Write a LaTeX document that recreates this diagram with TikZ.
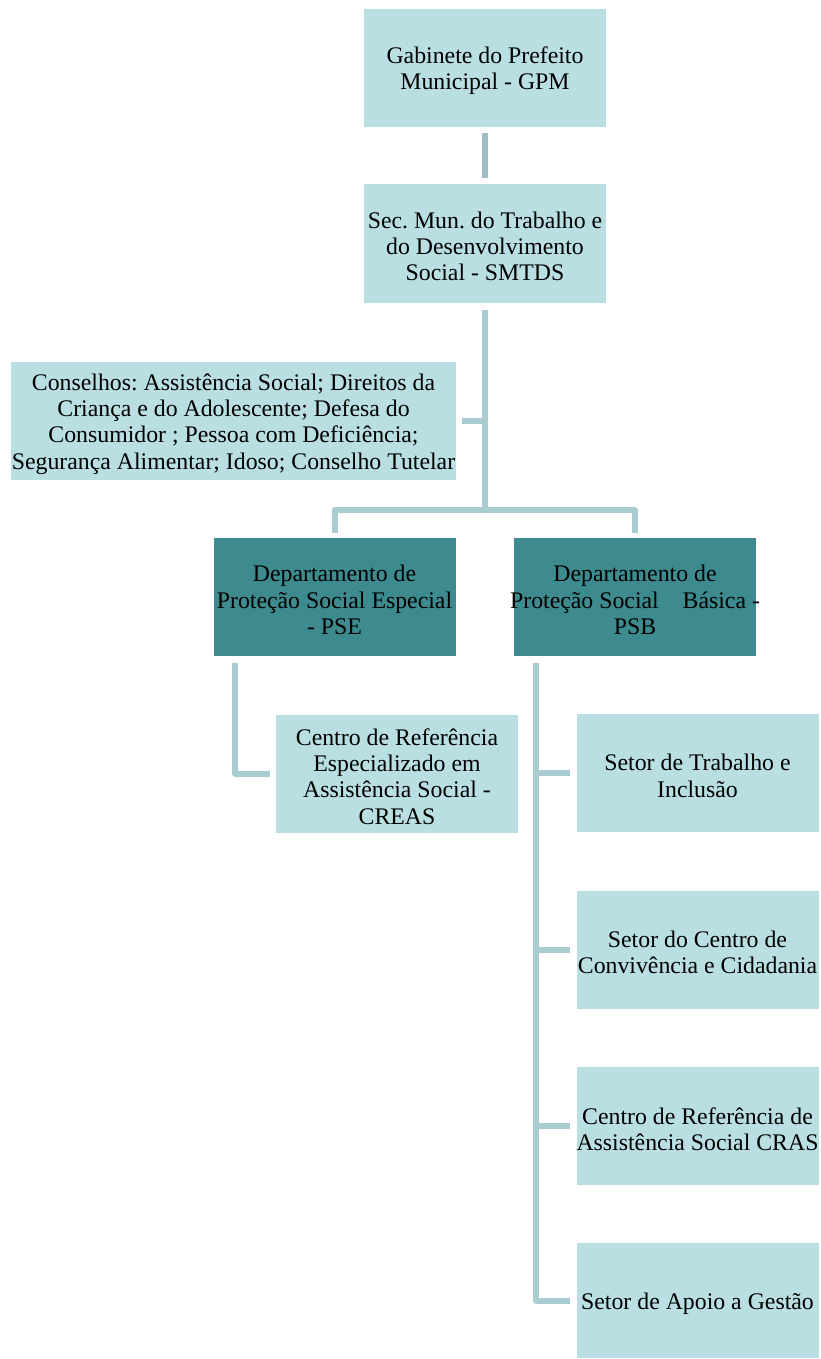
\documentclass[tikz,border=0pt]{standalone}
\usepackage{fontspec}
\setmainfont{Liberation Serif}
\definecolor{boxlight}{HTML}{BADFE3}
\definecolor{boxdark}{HTML}{3D8A8F}
\definecolor{connlight}{HTML}{A9CCD0}
\definecolor{conndark}{HTML}{9DBEC2}
\begin{document}
\frenchspacing
\begin{tikzpicture}[x=1pt,y=-1pt,
  orgbox/.style={fill=boxlight, draw=none, minimum width=242pt, minimum height=118pt, inner sep=0pt},
  deptbox/.style={orgbox, fill=boxdark},
  orgtext/.style={align=center, inner sep=0pt, yshift=-3pt,
    font=\fontsize{23.8}{26.3}\selectfont},
  conn/.style={draw=connlight, line width=6pt, line join=round},
  connt/.style={draw=conndark, line width=6pt}]
\useasboundingbox (0,0) rectangle (821,1359);
\fill[white] (0,0) rectangle (821,1359);

\node[orgbox] (gpm) at (485,68) {};
\node[orgtext] (gpmT) at (gpm.center) {Gabinete do Prefeito\\Municipal - GPM};
\node[orgbox] (smtds) at (485,243.5) {};
\node[orgtext] (smtdsT) at (smtds.center) {Sec. Mun. do Trabalho e\\do Desenvolvimento\\Social - SMTDS};
\node[orgbox, minimum width=445pt] (cons) at (233.5,421) {};
\node[orgtext] (consT) at (cons.center) {Conselhos: Assistência Social; Direitos da\\Criança e do Adolescente; Defesa do\\Consumidor ; Pessoa com Deficiência;\\Segurança Alimentar; Idoso; Conselho Tutelar};
\node[deptbox] (pse) at (334.5,597) {};
\node[orgtext] (pseT) at (pse.center) {Departamento de\\Proteção Social Especial\\- PSE};
\node[deptbox] (psb) at (635,597) {};
\node[orgtext] (psbT) at (psb.center) {Departamento de\\Proteção Social\quad Básica -\\PSB};
\node[orgbox] (creas) at (397,773.5) {};
\node[orgtext] (creasT) at (creas.center) {Centro de Referência\\Especializado em\\Assistência Social -\\CREAS};
\node[orgbox] (trab) at (697.5,773) {};
\node[orgtext] (trabT) at (trab.center) {Setor de Trabalho e\\Inclusão};
\node[orgbox] (conv) at (697.5,949.5) {};
\node[orgtext] (convT) at (conv.center) {Setor do Centro de\\Convivência e Cidadania};
\node[orgbox] (cras) at (697.5,1126) {};
\node[orgtext] (crasT) at (cras.center) {Centro de Referência de\\Assistência Social CRAS};
\node[orgbox, minimum height=115pt] (apoio) at (697.5,1300.5) {};
\node[orgtext] (apoioT) at (apoio.center) {Setor de Apoio a Gestão};

\coordinate (bus) at (485,510);
\coordinate (pseL) at (235,663);
\coordinate (psbL) at (536,663);

\draw[connt] ([yshift=-6pt]gpm.south) -- ([yshift=6pt]smtds.north);
\draw[conn] ([yshift=-7pt]smtds.south) -- (bus);
\draw[conn] ([xshift=6pt]cons.east) -- (cons.east -| bus);
\draw[conn] ([yshift=5pt]pse.north) -- (pse.north |- bus) -- (psb.north |- bus) -- ([yshift=5pt]psb.north);
\draw[conn] (pseL) -- (pseL |- creas.west) -- ([xshift=-6pt]creas.west);
\draw[conn] (psbL) -- (psbL |- apoio.west) -- ([xshift=-6pt]apoio.west);
\draw[conn] (psbL |- trab.west) -- ([xshift=-6pt]trab.west);
\draw[conn] (psbL |- conv.west) -- ([xshift=-6pt]conv.west);
\draw[conn] (psbL |- cras.west) -- ([xshift=-6pt]cras.west);
\end{tikzpicture}
\end{document}
